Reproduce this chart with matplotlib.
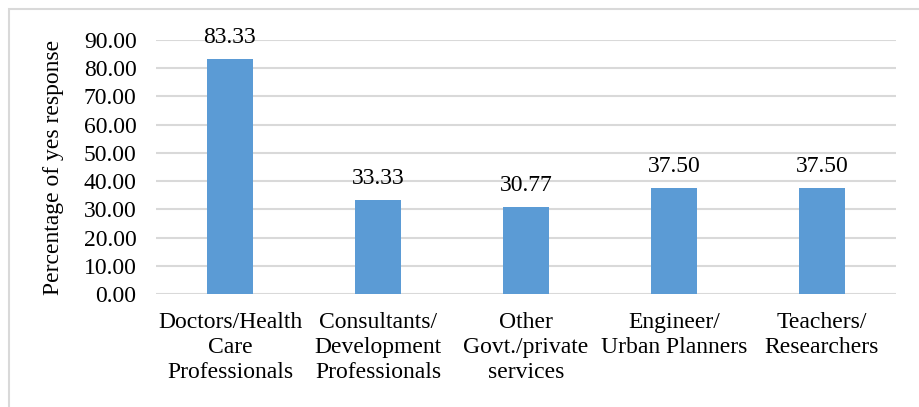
import matplotlib.pyplot as plt
from matplotlib.patches import Rectangle

# data
categories = ["Doctors/Health\nCare\nProfessionals",
              "Consultants/\nDevelopment\nProfessionals",
              "Other\nGovt./private\nservices",
              "Engineer/\nUrban Planners",
              "Teachers/\nResearchers"]
yes_pct = [83.33, 33.33, 30.77, 37.50, 37.50]
y_ticks = [0, 10, 20, 30, 40, 50, 60, 70, 80, 90]

W, H = 920, 407
FS = 17
plt.rcParams['font.family'] = ['Liberation Serif', 'DejaVu Serif']

fig = plt.figure(figsize=(W / 100, H / 100), dpi=100)
# axes area in pixels: left 156, right 896, top 40 (90), bottom 294 (0)
ax = fig.add_axes([156 / W, 1 - 294 / H, (896 - 156) / W, (294 - 40) / H])

# chart border (only top and left visible, rest is cropped)
fig.patches.append(Rectangle((8.5 / W, -0.1), 1.2, (H - 9) / H + 0.1,
                             transform=fig.transFigure, fill=False,
                             edgecolor='#d9d9d9', linewidth=1.5))

x = range(len(categories))
bars = ax.bar(x, yes_pct, width=0.31, color='#5b9bd5', zorder=3)
for b, v in zip(bars, yes_pct):
    ax.text(b.get_x() + b.get_width() / 2, v + 4, f"{v:.2f}",
            ha='center', va='bottom', fontsize=FS, clip_on=False)

ax.set_xlim(-0.5, len(categories) - 0.5)
ax.set_ylim(0, 90)
ax.set_yticks(y_ticks)
ax.set_yticklabels([f"{t:.2f}" for t in y_ticks], fontsize=FS)
ax.set_xticks(list(x))
ax.set_xticklabels(categories, fontsize=FS, linespacing=1.25)
ax.tick_params(length=0)
ax.tick_params(axis='x', pad=13)
ax.tick_params(axis='y', pad=14)
ax.grid(axis='y', color='#d9d9d9', linewidth=1.5, zorder=0)
for s in ax.spines.values():
    s.set_visible(False)
ax.set_ylabel("Percentage of yes response", fontsize=FS, labelpad=14)

fig.savefig("out.png", dpi=100)
